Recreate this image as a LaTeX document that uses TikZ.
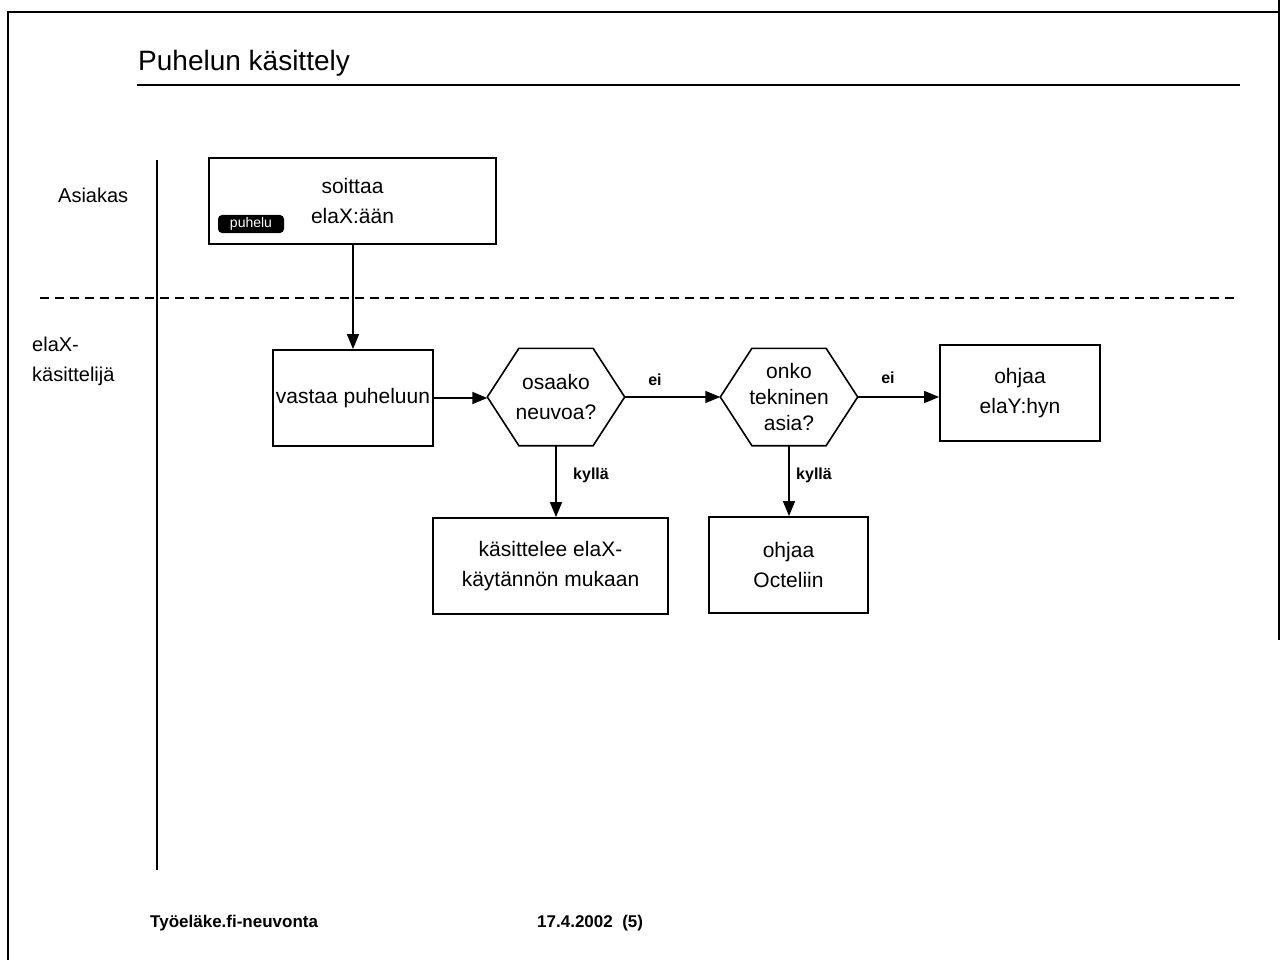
\documentclass[tikz,border=0pt]{standalone}
\usepackage{fontspec}
\setmainfont{Liberation Sans}
\usetikzlibrary{arrows.meta,calc}
\newcommand\drawhexagon[1]{%
  \draw[hexline] (#1.west) -- ($(#1.north west)!0.23!(#1.north east)$) -- ($(#1.north west)!0.77!(#1.north east)$) -- (#1.east) -- ($(#1.south west)!0.77!(#1.south east)$) -- ($(#1.south west)!0.23!(#1.south east)$) -- cycle;}
\begin{document}
\begin{tikzpicture}[x=1pt,y=-1pt,
  boxtext/.style={font=\fontsize{21}{30}\selectfont, align=center, inner sep=0pt},
  procbox/.style={boxtext, draw, line width=1.8pt, minimum height=96pt},
  hexnode/.style={boxtext, minimum width=137pt, minimum height=97pt},
  hexline/.style={line width=1.6pt, line join=miter},
  flow/.style={line width=1.5pt, -{Triangle[length=15pt,width=12pt]}},
  lbl/.style={font=\bfseries\fontsize{16}{18}\selectfont, inner sep=0pt},
  lane/.style={font=\fontsize{20}{30}\selectfont, align=left, inner sep=0pt, anchor=west},
  frameline/.style={line width=2pt}]
\useasboundingbox (0,0) rectangle (1282,960);
% frame
\draw[frameline] (8,960) -- (8,12) -- (1280,12);
\draw[frameline] (1279,0) -- (1279,640);
% title
\node[anchor=base west, inner sep=0pt, font=\fontsize{28}{30}\selectfont] (title) at (138,71) {Puhelun käsittely};
\draw[line width=1.5pt] (137,85) -- (1240,85);
% swimlanes
\draw[line width=1.5pt] (157,160) -- (157,870);
\draw[line width=1.5pt, dash pattern=on 9pt off 6pt] (40,298) -- (1236,298);
\node[lane] (asiakas) at (58,195) {Asiakas};
\node[lane] (elax) at (32,361) {elaX-\\käsittelijä};
% nodes
\node[procbox, minimum width=287pt, minimum height=86pt] (soittaa) at (352.5,201) {soittaa\\elaX:ään};
\node[fill=black, rounded corners=4pt, minimum width=66pt, minimum height=18pt, inner sep=0pt, text=white, font=\fontsize{14}{14}\selectfont] (puhelu) at (251,224) {puhelu};
\node[procbox, minimum width=160pt] (vastaa) at (353,398) {vastaa puheluun};
\node[hexnode] (osaako) at (556,397) {osaako\\neuvoa?};
\node[hexnode, font=\fontsize{21}{26}\selectfont] (onko) at (789,397) {onko\\tekninen\\asia?};
\node[procbox, minimum width=160pt] (elay) at (1020,393) {ohjaa\\elaY:hyn};
\node[procbox, minimum width=235pt] (kasit) at (550.5,566) {käsittelee elaX-\\käytännön mukaan};
\node[procbox, minimum width=159pt] (octel) at (788.5,565) {ohjaa\\Octeliin};
\drawhexagon{osaako}
\drawhexagon{onko}
% connectors
\draw[flow] (soittaa.south -| vastaa.north) -- (vastaa.north);
\draw[flow] (vastaa.east) -- (vastaa.east -| osaako.west);
\draw[flow] (osaako.east) -- (onko.west);
\draw[flow] (onko.east) -- (onko.east -| elay.west);
\draw[flow] (osaako.south) -- (osaako.south |- kasit.north);
\draw[flow] (onko.south) -- (onko.south |- octel.north);
% labels
\node[lbl] (ei1) at (655,380) {ei};
\node[lbl] (ei2) at (888,378) {ei};
\node[lbl] (kylla1) at (591,475) {kyllä};
\node[lbl] (kylla2) at (814,475) {kyllä};
% footer
\node[anchor=base west, inner sep=0pt, font=\bfseries\fontsize{17}{20}\selectfont] (foot1) at (150,927) {Työeläke.fi-neuvonta};
\node[anchor=base west, inner sep=0pt, font=\bfseries\fontsize{17}{20}\selectfont] (foot2) at (537,927) {17.4.2002\ \ (5)};
\end{tikzpicture}
\end{document}
